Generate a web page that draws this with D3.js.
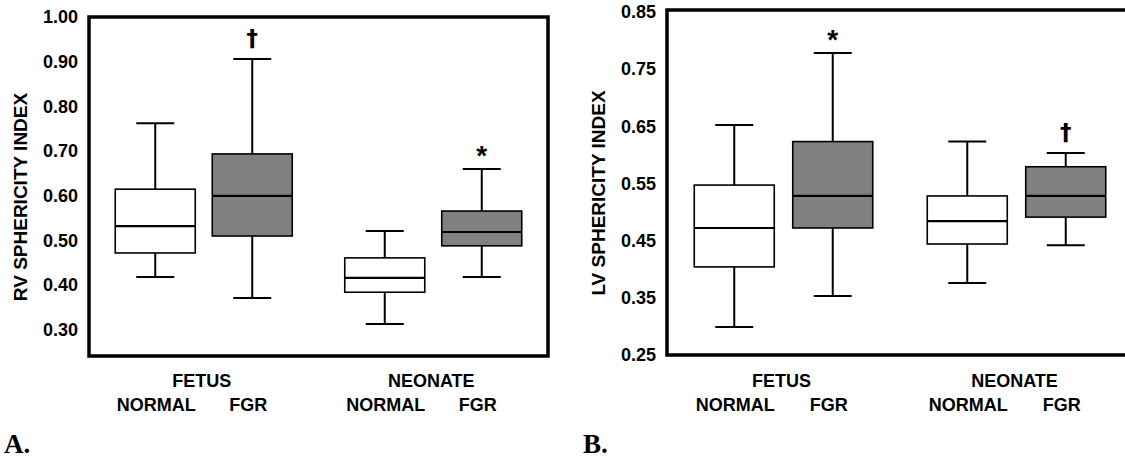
<!DOCTYPE html>
<html>
<head>
<meta charset="utf-8">
<script src="https://cdn.jsdelivr.net/npm/d3@7"></script>
<style>
  body { margin: 0; background: #fff; }
  text { font-family: "Liberation Sans", Arial, sans-serif; font-weight: bold; fill: #000; }
</style>
</head>
<body>
<svg id="chart"></svg>
<script>
// groups on the x axis, two boxes per group
const groups = ['FETUS', 'NEONATE'];
const subgroups = ['NORMAL', 'FGR'];

// [lower whisker, q1, median, q3, upper whisker] in order fetus normal, fetus fgr, neonate normal, neonate fgr
const rvStats = [
	[0.417, 0.471, 0.531, 0.614, 0.762],
	[0.370, 0.509, 0.599, 0.693, 0.906],
	[0.312, 0.383, 0.415, 0.460, 0.520],
	[0.417, 0.487, 0.518, 0.565, 0.659]
];
const lvStats = [
	[0.299, 0.404, 0.472, 0.547, 0.652],
	[0.353, 0.472, 0.528, 0.623, 0.778],
	[0.376, 0.444, 0.484, 0.528, 0.623],
	[0.442, 0.491, 0.528, 0.579, 0.603]
];
const rvMarks = ['', '\u2020', '', '*'];
const lvMarks = ['', '*', '', '\u2020'];

const rvTicks = [0.30, 0.40, 0.50, 0.60, 0.70, 0.80, 0.90, 1.00];
const lvTicks = [0.25, 0.35, 0.45, 0.55, 0.65, 0.75, 0.85];

const W = 1125, H = 465;
const svg = d3.select('#chart').attr('width', W).attr('height', H);

function drawPanel(p) {
	const g = svg.append('g');

	const y = d3.scaleLinear().domain(p.domain).range([p.bottom, p.top]);
	const xOuter = d3.scaleBand().domain(groups).range([p.left, p.right]);
	const xInner = d3.scalePoint().domain(subgroups).range([0, xOuter.bandwidth()]).padding(0.683);

	const boxW = 80, capW = 38;

	// flatten stats into rows that know their group and subgroup
	const rows = p.stats.map((s, i) => ({
		grp: groups[Math.floor(i / 2)],
		sub: subgroups[i % 2],
		s: s,
		mark: p.marks[i]
	}));
	const cx = d => xOuter(d.grp) + xInner(d.sub);

	const box = g.selectAll('g.box').data(rows).enter().append('g').attr('class', 'box');

	// whiskers
	box.append('line')
		.attr('x1', cx).attr('x2', cx)
		.attr('y1', d => y(d.s[4])).attr('y2', d => y(d.s[3]))
		.attr('stroke', '#000').attr('stroke-width', 2);
	box.append('line')
		.attr('x1', cx).attr('x2', cx)
		.attr('y1', d => y(d.s[1])).attr('y2', d => y(d.s[0]))
		.attr('stroke', '#000').attr('stroke-width', 2);
	[0, 4].forEach(k => {
		box.append('line')
			.attr('x1', d => cx(d) - capW / 2).attr('x2', d => cx(d) + capW / 2)
			.attr('y1', d => y(d.s[k])).attr('y2', d => y(d.s[k]))
			.attr('stroke', '#000').attr('stroke-width', 2);
	});

	box.append('rect')
		.attr('x', d => cx(d) - boxW / 2)
		.attr('width', boxW)
		.attr('y', d => y(d.s[3]))
		.attr('height', d => y(d.s[1]) - y(d.s[3]))
		.attr('fill', d => d.sub == 'FGR' ? '#808080' : '#fff')
		.attr('stroke', '#000').attr('stroke-width', 1.6);

	box.append('line')
		.attr('x1', d => cx(d) - boxW / 2).attr('x2', d => cx(d) + boxW / 2)
		.attr('y1', d => y(d.s[2])).attr('y2', d => y(d.s[2]))
		.attr('stroke', '#000').attr('stroke-width', 2.2);

	// significance marks above the upper whisker
	box.filter(d => d.mark).append('text')
		.attr('x', cx)
		.attr('y', d => y(d.s[4]) - (d.mark == '*' ? 4 : 13))
		.attr('text-anchor', 'middle')
		.style('font-family', d => d.mark == '*' ? null : '"DejaVu Sans", sans-serif')
		.style('font-size', d => d.mark == '*' ? '28px' : '23px')
		.text(d => d.mark);

	// frame
	g.append('path')
		.attr('d', 'M' + p.left + ',' + p.top + 'H' + p.right + 'V' + p.bottom + 'H' + p.left + 'Z')
		.attr('fill', 'none').attr('stroke', '#000').attr('stroke-width', 3.5);

	// y tick labels, no tick marks
	g.selectAll('text.tick').data(p.ticks).enter().append('text')
		.attr('class', 'tick')
		.attr('x', p.left - 11)
		.attr('y', d => y(d))
		.attr('dy', '0.36em')
		.attr('text-anchor', 'end')
		.style('font-size', '18px')
		.text(d => d.toFixed(2));

	g.append('text')
		.attr('transform', 'translate(' + p.titleX + ',' + p.titleY + ') rotate(-90)')
		.attr('text-anchor', 'middle')
		.attr('dy', '0.36em')
		.style('font-size', '19px')
		.text(p.title);

	// category labels
	g.selectAll('text.grp').data(groups).enter().append('text')
		.attr('x', d => xOuter(d) + xOuter.bandwidth() / 2 - 2)
		.attr('y', 387)
		.attr('text-anchor', 'middle')
		.style('font-size', '18px')
		.text(d => d);
	groups.forEach(gr => {
		g.selectAll(null).data(subgroups).enter().append('text')
			.attr('x', d => xOuter(gr) + xInner(d) + (d == 'FGR' ? -4 : 1))
			.attr('y', 411)
			.attr('text-anchor', 'middle')
			.style('font-size', '18px')
			.text(d => d);
	});

	g.append('text')
		.attr('x', p.letterX).attr('y', 453)
		.style('font-family', '"Liberation Serif", "Times New Roman", serif')
		.style('font-size', '27px')
		.text(p.letter);
}

drawPanel({
	left: 89, right: 548, top: 17, bottom: 356,
	domain: [0.24, 1.0], ticks: rvTicks, stats: rvStats, marks: rvMarks,
	title: 'RV SPHERICITY INDEX', titleX: 20, titleY: 197,
	letter: 'A.', letterX: 4
});
drawPanel({
	left: 667, right: 1133, top: 10, bottom: 355,
	domain: [0.25, 0.853], ticks: lvTicks, stats: lvStats, marks: lvMarks,
	title: 'LV SPHERICITY INDEX', titleX: 598, titleY: 193,
	letter: 'B.', letterX: 583
});
</script>
</body>
</html>
